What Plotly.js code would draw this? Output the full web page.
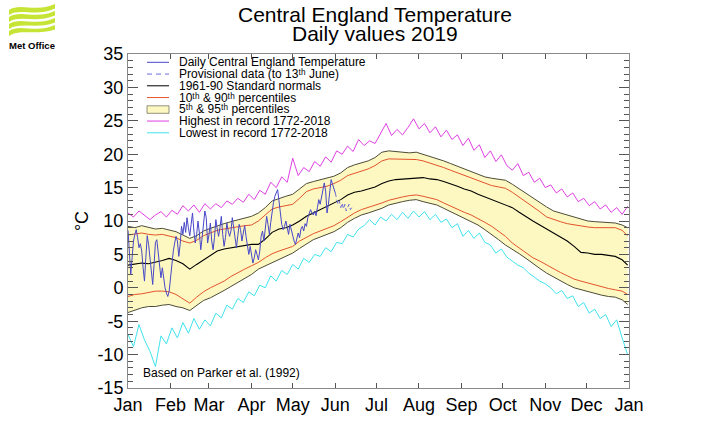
<!DOCTYPE html>
<html>
<head>
<meta charset="utf-8">
<script src="https://cdn.plot.ly/plotly-3.0.1.min.js"></script>
<style>
  html, body { margin: 0; padding: 0; background: #ffffff; }
  #chart { width: 708px; height: 431px; }
</style>
</head>
<body>
<div id="chart"></div>
<script>
// ---- Climatology (day of year, 0 = 1 Jan) ----
const pctDays = [0,5,10,15,20,25,30,35,40,45,50,55,60,65,70,75,80,85,90,95,100,105,110,115,120,125,130,135,140,145,150,155,160,165,170,175,180,185,190,195,200,205,210,215,220,225,230,235,240,245,250,255,260,265,270,275,280,285,290,295,300,305,310,315,320,325,330,335,340,345,350,355,360,364];

const normals = [3.4,3.6,3.7,3.6,3.8,4.1,4.4,4.1,3.6,2.8,3.5,4.2,4.9,5.5,5.8,6.0,6.2,6.4,6.5,6.5,7.3,8.3,8.8,9.0,9.4,10.0,10.7,11.2,11.7,12.2,12.6,13.2,13.9,14.3,14.5,14.8,15.1,15.6,16.0,16.2,16.3,16.4,16.4,16.5,16.3,16.2,15.9,15.6,15.2,14.8,14.5,14.0,13.6,13.2,12.9,12.5,12.0,11.3,10.6,10.0,9.4,8.8,8.1,7.5,7.0,6.2,5.3,5.2,5.0,5.0,4.8,4.7,4.2,3.4];

const p95 = [9.2,9.0,9.3,9.0,8.8,8.9,8.6,8.4,7.9,7.4,7.8,8.5,8.9,9.3,9.6,9.9,10.2,10.4,10.7,11.2,12.0,13.0,13.4,13.7,14.0,14.8,15.6,15.9,16.2,16.4,16.7,17.2,18.0,18.4,18.7,19.0,19.5,20.3,20.5,20.4,20.3,20.2,20.3,20.0,19.6,19.3,19.0,18.6,18.2,17.8,17.4,16.9,16.6,16.4,16.3,16.1,15.5,14.8,14.1,13.5,12.8,12.1,11.5,11.2,10.8,10.5,10.2,10.0,9.9,9.8,9.7,9.7,9.4,9.0];

const p90 = [7.9,8.0,8.2,8.0,7.9,8.0,7.7,7.5,7.0,6.7,7.1,7.8,8.2,8.6,8.8,9.0,9.2,9.3,9.4,10.0,10.9,11.8,12.1,12.3,12.5,13.4,14.4,14.8,15.0,15.2,15.6,16.1,16.8,17.1,17.4,17.8,18.3,19.0,19.3,19.3,19.2,19.2,19.2,19.0,18.7,18.4,18.0,17.6,17.2,16.8,16.4,16.0,15.6,15.3,15.1,14.9,14.3,13.6,12.8,12.1,11.4,10.6,10.2,9.9,9.6,9.4,9.2,9.1,9.0,9.0,9.0,9.0,8.6,7.8];

const p10 = [-1.3,-1.0,-0.9,-0.7,-0.5,-0.5,-0.6,-1.0,-1.6,-2.3,-1.4,-0.6,0.0,0.5,1.0,1.7,2.3,2.8,3.3,3.8,4.5,5.1,5.5,5.8,6.2,7.0,7.6,8.1,8.5,8.9,9.3,9.9,10.6,11.2,11.7,12.0,12.3,12.7,13.1,13.4,13.6,13.8,13.9,13.7,13.4,13.2,12.7,12.2,11.8,11.3,10.9,10.4,9.8,9.2,8.5,7.7,6.7,6.0,5.2,4.5,4.0,3.4,2.9,2.3,1.8,1.3,1.0,0.7,0.4,0.1,-0.1,-0.3,-0.5,-1.0];

const p5 = [-3.7,-3.3,-3.0,-2.8,-2.8,-2.6,-2.5,-2.8,-3.0,-3.4,-2.6,-1.9,-1.5,-1.0,-0.4,0.2,0.8,1.4,2.0,2.8,3.3,3.8,4.3,4.7,5.2,5.9,6.6,7.2,7.6,8.0,8.4,9.0,9.8,10.4,10.9,11.2,11.5,11.9,12.4,12.7,12.9,13.1,13.2,12.9,12.6,12.4,11.9,11.4,10.9,10.4,10.0,9.4,8.7,8.0,7.2,6.4,5.8,5.1,4.4,3.6,2.9,2.2,1.6,1.0,0.5,0.0,-0.3,-0.6,-0.9,-1.1,-1.3,-1.4,-1.8,-2.5];

// ---- Records 1772-2018 ----
const recDays = [0,4,8,12,16,20,24,28,32,36,40,44,48,52,56,60,64,68,72,76,80,84,88,92,96,100,104,108,112,116,120,124,128,132,136,140,144,148,152,156,160,164,168,172,176,180,184,188,192,196,200,204,208,212,216,220,224,228,232,236,240,244,248,252,256,260,264,268,272,276,280,284,288,292,296,300,304,308,312,316,320,324,328,332,336,340,344,348,352,356,360,364];

const recHigh = [11.2,10.6,11.5,10.8,10.2,10.9,11.4,10.6,11.6,11.0,12.3,11.5,12.4,11.3,12.6,11.8,12.6,12.0,13.0,12.5,13.4,12.8,14.0,13.2,14.6,14.0,15.8,15.0,16.6,15.8,19.4,16.8,18.0,17.4,18.9,18.2,19.6,18.8,20.5,20.0,21.2,20.4,22.2,21.3,22.0,21.6,23.2,24.6,22.8,23.7,22.9,24.0,25.3,23.8,24.6,23.2,24.1,22.6,23.6,22.2,22.9,21.3,22.4,20.6,21.4,19.5,20.5,18.9,19.9,18.3,17.6,18.6,16.8,17.3,15.8,16.4,15.0,15.4,14.2,14.8,13.6,14.2,12.9,13.4,12.3,12.9,11.8,12.4,11.3,12.0,11.0,12.2];

const recLow = [-7.0,-8.8,-5.5,-7.8,-9.5,-11.8,-7.2,-8.4,-6.0,-7.5,-5.2,-6.8,-4.6,-6.2,-4.8,-5.7,-3.8,-4.5,-2.6,-3.2,-1.6,-2.2,-0.6,-1.2,0.4,0.0,1.8,1.0,2.6,2.0,3.5,2.8,4.4,3.8,5.0,4.7,6.0,5.4,6.8,6.6,8.0,7.6,8.8,9.3,10.2,9.4,10.6,10.0,11.0,10.2,11.3,10.4,11.5,10.6,11.4,10.2,11.0,9.8,10.3,9.0,9.6,7.7,8.6,7.4,8.2,6.8,6.4,5.2,5.8,4.6,4.0,3.4,3.0,2.2,1.6,1.0,0.6,0.0,-0.9,-0.4,-1.6,-1.2,-2.8,-2.2,-3.8,-3.2,-4.6,-4.0,-5.8,-4.8,-7.5,-10.0];

// ---- Daily CET 2019 (from 1 Jan) ----
const cet2019 = [
  8.6,5.0,2.0,4.5,7.0,8.0,8.7,7.5,6.0,6.6,5.5,3.0,1.0,4.5,7.8,6.5,4.7,3.0,0.5,3.5,6.8,7.2,5.0,2.5,1.5,3.0,1.0,0.0,-0.8,-1.3,-0.5,
  1.7,3.5,5.5,6.7,7.7,7.0,4.7,6.5,9.2,8.0,9.8,8.3,10.5,9.0,7.8,9.5,11.2,8.5,6.7,8.0,10.0,8.2,5.7,7.5,9.2,11.5,10.5,6.7,
  8.0,9.7,7.0,5.7,7.5,10.2,8.8,7.7,9.0,10.7,8.0,6.2,7.5,9.7,8.5,7.7,8.5,10.5,9.0,7.2,6.0,7.8,9.5,8.7,7.0,8.2,9.3,7.7,6.0,5.0,6.2,
  5.0,3.7,4.5,5.7,5.0,4.2,5.5,7.7,8.5,7.0,8.8,10.7,9.5,8.0,9.8,11.5,12.8,13.7,14.2,14.7,13.0,10.7,9.5,8.7,9.2,10.0,9.0,8.0,9.5,8.5,
  7.5,7.0,6.5,7.2,8.2,7.5,8.8,9.2,8.5,9.6,9.2,10.5,11.0,11.7,11.2,10.9,11.5,10.8,12.0,13.2,12.5,13.5,14.8,15.7,14.5,11.2,12.5,14.8,16.2,15.5,14.7,14.2
];
// Provisional values, 1 Jun to 13 Jun
const provStartDay = 151;
const cetProvisional = [14.2,13.5,12.5,13.0,12.0,12.7,11.8,12.5,11.5,12.0,12.5,11.7,12.0];

const monthTicks = ['2019-01-01','2019-02-01','2019-03-01','2019-04-01','2019-05-01','2019-06-01','2019-07-01','2019-08-01','2019-09-01','2019-10-01','2019-11-01','2019-12-01','2020-01-01'];
const monthNames = ['Jan','Feb','Mar','Apr','May','Jun','Jul','Aug','Sep','Oct','Nov','Dec','Jan'];
const yTicks = [-15,-10,-5,0,5,10,15,20,25,30,35];

// sanity checks on the hand-entered tables
[normals,p95,p90,p10,p5].forEach(function(a){ if (a.length !== pctDays.length) throw new Error('percentile length ' + a.length); });
[recHigh,recLow].forEach(function(a){ if (a.length !== recDays.length) throw new Error('record length ' + a.length); });

function dayToDate(d) {
  const t = new Date(Date.UTC(2019, 0, 1) + d * 86400000);
  return t.toISOString().slice(0, 10);
}
const pctX = pctDays.map(dayToDate);
const recX = recDays.map(dayToDate);
const cetX = cet2019.map(function(_, i){ return dayToDate(i); });
const provX = cetProvisional.map(function(_, i){ return dayToDate(provStartDay + i); });

const COL = {
  daily: '#4747c9',
  prov: '#6b6bd9',
  normal: '#000000',
  p10: '#e4532b',
  p5: '#4c4c36',
  fill: '#fdf8c2',
  high: '#e03fe3',
  low: '#3fe3ee'
};

function line(x, y, color, extra) {
  return Object.assign({
    type: 'scatter', mode: 'lines', x: x, y: y,
    line: { color: color, width: 1 }, hoverinfo: 'skip', showlegend: false
  }, extra || {});
}

const traces = [
  line(pctX, p95, COL.p5),
  line(pctX, p5, COL.p5, { fill: 'tonexty', fillcolor: COL.fill }),
  line(pctX, p90, COL.p10),
  line(pctX, p10, COL.p10),
  line(pctX, normals, COL.normal, { line: { color: COL.normal, width: 1.1 } }),
  line(recX, recHigh, COL.high),
  line(recX, recLow, COL.low),
  line(cetX, cet2019, COL.daily),
  line(provX, cetProvisional, COL.prov, { line: { color: COL.prov, width: 1, dash: '4px,3px' } })
];

// ---- page geometry (plot box in pixels) ----
const W = 708, H = 431;
const box = { l: 128, r: 629, t: 54, b: 388 };
function PX(x) { return (x - box.l) / (box.r - box.l); }
function PY(y) { return (box.b - y) / (box.b - box.t); }

const FONT = '"Liberation Sans", Arial, Helvetica, sans-serif';

// ---- key drawn inside the plot (ordinals use small superscript letters) ----
const keyItems = [
  { label: 'Daily Central England Temperature', color: COL.daily, kind: 'line' },
  { label: 'Provisional data (to 13\u1d57\u02b0 June)', color: COL.prov, kind: 'dash' },
  { label: '1961-90 Standard normals', color: COL.normal, kind: 'line' },
  { label: '10\u1d57\u02b0 &amp; 90\u1d57\u02b0 percentiles', color: COL.p10, kind: 'line' },
  { label: '5\u1d57\u02b0 &amp; 95\u1d57\u02b0 percentiles', color: COL.p5, kind: 'box' },
  { label: 'Highest in record 1772-2018', color: COL.high, kind: 'line' },
  { label: 'Lowest in record 1772-2018', color: COL.low, kind: 'line' }
];

const shapes = [];
const annotations = [];

keyItems.forEach(function(it, i) {
  const yc = 62.3 + i * 11.75;
  if (it.kind === 'box') {
    shapes.push({ type: 'rect', xref: 'paper', yref: 'paper',
      x0: PX(147), x1: PX(169), y0: PY(yc + 4), y1: PY(yc - 3.5),
      fillcolor: COL.fill, line: { color: COL.p5, width: 0.6 } });
  } else {
    shapes.push({ type: 'line', xref: 'paper', yref: 'paper',
      x0: PX(147), x1: PX(169), y0: PY(yc), y1: PY(yc),
      line: { color: it.color, width: 1, dash: it.kind === 'dash' ? '5px,4px' : 'solid' } });
  }
  annotations.push({ xref: 'paper', yref: 'paper', x: PX(177), y: PY(yc),
    xanchor: 'left', yanchor: 'middle', showarrow: false, text: it.label,
    font: { family: FONT, size: 12, color: '#000' } });
});

// citation
annotations.push({ xref: 'paper', yref: 'paper', x: PX(141), y: PY(373),
  xanchor: 'left', yanchor: 'middle', showarrow: false,
  text: 'Based on Parker et al. (1992)', font: { family: FONT, size: 12, color: '#000' } });

// two-line heading
annotations.push({ xref: 'paper', yref: 'paper', x: PX(375), y: PY(15),
  xanchor: 'center', yanchor: 'middle', showarrow: false,
  text: 'Central England Temperature', font: { family: FONT, size: 21, color: '#000' } });
annotations.push({ xref: 'paper', yref: 'paper', x: PX(375), y: PY(33.5),
  xanchor: 'center', yanchor: 'middle', showarrow: false,
  text: 'Daily values 2019', font: { family: FONT, size: 21, color: '#000' } });

// Met Office mark: four wavy green bands plus the name
function bandPath(y0, k) {
  const w = 1 - k * 0.08;
  const top = [[9, y0 + 4], [20, y0 - 4], [36, y0 + 7], [55, y0 - 2]];
  const bot = [[55, y0 + 2.5], [36, y0 + 11.5 * w], [20, y0 + 1.5], [9, y0 + 9]];
  function p(pt) { return PX(pt[0]) + ',' + PY(pt[1]); }
  return 'M' + p(top[0]) + ' C' + p(top[1]) + ' ' + p(top[2]) + ' ' + p(top[3]) +
         ' L' + p(bot[0]) + ' C' + p(bot[1]) + ' ' + p(bot[2]) + ' ' + p(bot[3]) + ' Z';
}
[6, 13, 20, 27].forEach(function(y0, k) {
  shapes.push({ type: 'path', xref: 'paper', yref: 'paper', path: bandPath(y0, k),
    fillcolor: '#c6e436', line: { width: 0 } });
});
annotations.push({ xref: 'paper', yref: 'paper', x: PX(32), y: PY(45.5),
  xanchor: 'center', yanchor: 'middle', showarrow: false,
  text: '<b>Met Office</b>', font: { family: FONT, size: 9.5, color: '#000' } });

const layout = {
  width: W, height: H,
  margin: { l: box.l, r: W - box.r, t: box.t, b: H - box.b, pad: 0 },
  paper_bgcolor: '#ffffff', plot_bgcolor: '#ffffff',
  showlegend: false,
  font: { family: FONT, color: '#000' },
  xaxis: {
    type: 'date',
    range: ['2019-01-01', '2020-01-01'],
    tickmode: 'array', tickvals: monthTicks, ticktext: monthNames,
    ticks: 'inside', ticklen: 5, tickcolor: '#555', tickwidth: 1,
    showline: true, linecolor: '#8a8a8a', linewidth: 1, mirror: 'allticks',
    showgrid: false, zeroline: false,
    tickfont: { family: FONT, size: 18, color: '#000' }
  },
  yaxis: {
    range: [-15, 35],
    tickmode: 'array', tickvals: yTicks, ticktext: yTicks.map(String),
    ticks: 'inside', ticklen: 10, tickcolor: '#555', tickwidth: 1,
    minor: { tickmode: 'linear', tick0: 0, dtick: 1, ticks: 'inside', ticklen: 5, tickcolor: '#555', showgrid: false },
    showline: true, linecolor: '#8a8a8a', linewidth: 1, mirror: 'allticks',
    showgrid: false, zeroline: false,
    tickfont: { family: FONT, size: 18, color: '#000' },
    title: { text: '°C', font: { family: FONT, size: 18, color: '#000' }, standoff: 4 }
  },
  shapes: shapes,
  annotations: annotations
};

Plotly.newPlot('chart', traces, layout, { staticPlot: true, displayModeBar: false });
</script>
</body>
</html>
